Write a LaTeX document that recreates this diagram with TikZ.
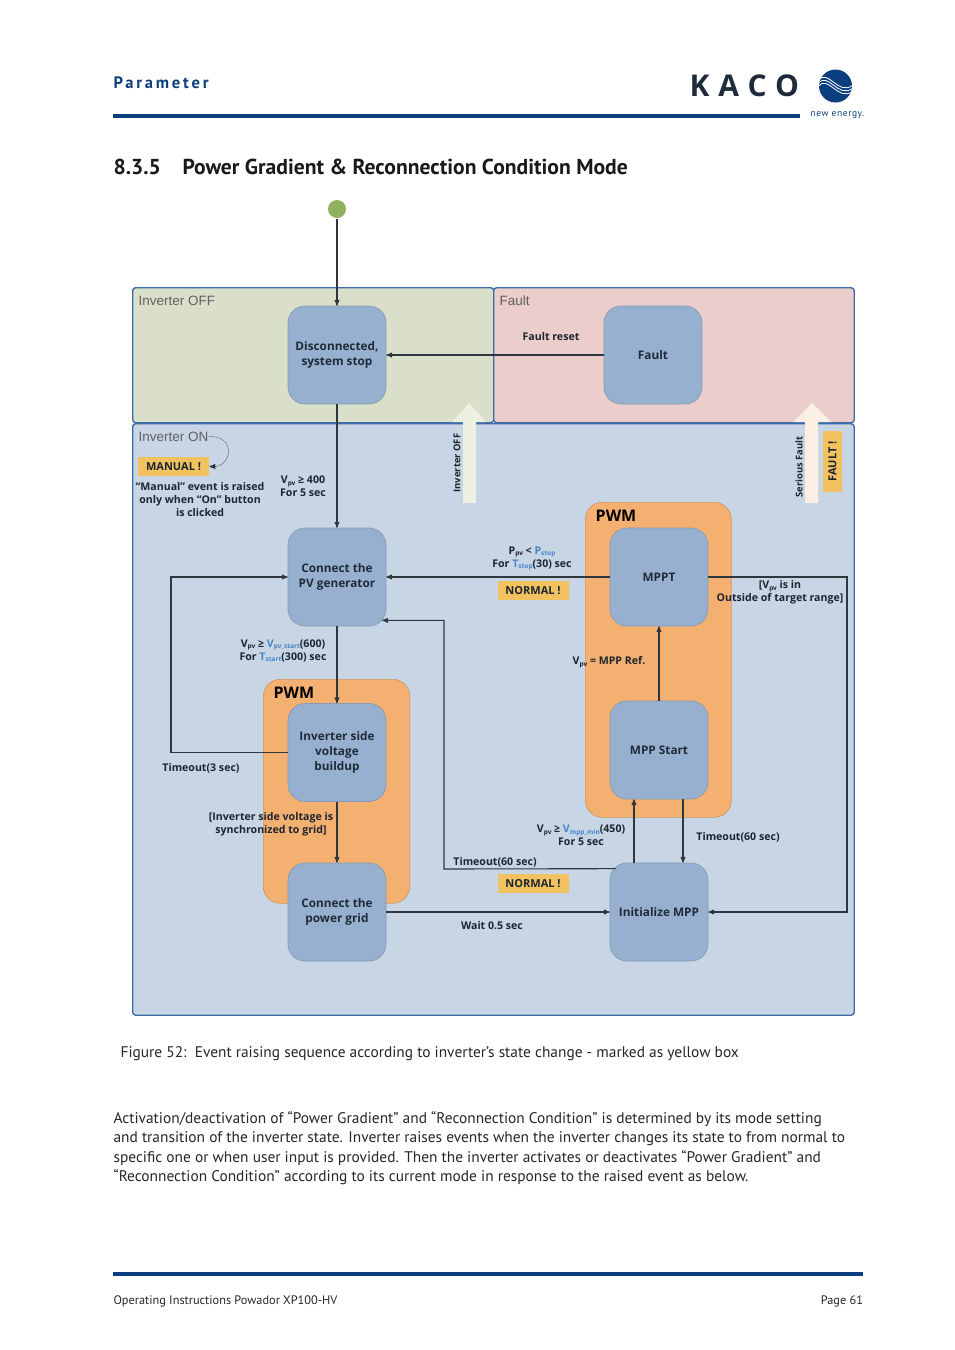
\documentclass[tikz,border=0pt]{standalone}
\usepackage{fontspec}
\setmainfont{PT Sans}
\newfontfamily\diagfont{Open Sans}
\newfontfamily\panelfont{Liberation Sans}
\usetikzlibrary{arrows,positioning,calc}
\definecolor{kblue}{HTML}{0B3D7F}
\definecolor{kdark}{HTML}{1E2B38}
\definecolor{offfill}{HTML}{DADFC9}
\definecolor{faultfill}{HTML}{EBCDCB}
\definecolor{onfill}{HTML}{C7D5E5}
\definecolor{panelline}{HTML}{3D6CA8}
\definecolor{pwmfill}{HTML}{F3B071}
\definecolor{stfill}{HTML}{98B0CF}
\definecolor{evfill}{HTML}{F2C260}
\definecolor{lblue}{HTML}{4A86C5}
\definecolor{lblack}{HTML}{1C2530}
\definecolor{startfill}{HTML}{8FB05C}
\definecolor{offup}{HTML}{EEF1E2}
\definecolor{faultup}{HTML}{FBEEE3}
\definecolor{connline}{HTML}{30363E}
\newcommand{\sbs}[1]{\raisebox{-1.6pt}{\fontsize{6.5}{6.5}\selectfont #1}}
\newcommand{\Vpv}{V\sbs{pv}}
\newcommand{\blu}[1]{\textcolor{lblue}{#1}}

\begin{document}
\begin{tikzpicture}[x=1pt, y=-1pt, ->, >=stealth', semithick, line width=1.1pt, draw=connline]
	\tikzstyle{panel}=[draw=panelline, line width=1.4pt, rounded corners=3pt, inner sep=0pt, anchor=north west]
	\tikzstyle{pwmbox}=[fill=pwmfill, draw=black!15!pwmfill, line width=.6pt, rounded corners=17pt, inner sep=0pt, anchor=north west]
	\tikzstyle{stbox}=[fill=stfill, draw=black!12!stfill, line width=.7pt, rounded corners=17pt, minimum width=98pt, minimum height=98pt, inner sep=0pt, align=center, text=kdark, font=\diagfont\bfseries\fontsize{11.8}{15}\selectfont]
	\tikzstyle{evbox}=[fill=evfill, inner sep=0pt, minimum width=71pt, minimum height=19pt, text=lblack, font=\diagfont\bfseries\fontsize{11}{13}\selectfont]
	\tikzstyle{lbl}=[inner sep=0pt, align=center, text=lblack, font=\diagfont\bfseries\fontsize{10.6}{13}\selectfont]
	\tikzstyle{sidelbl}=[inner sep=0pt, rotate=90, text=lblack, font=\diagfont\bfseries\fontsize{9.4}{12}\selectfont]
	\tikzstyle{paneltitle}=[inner sep=0pt, anchor=west, text=black!62, font=\panelfont\fontsize{13.5}{16}\selectfont]
	\tikzstyle{pwmtitle}=[inner sep=0pt, text=black, font=\diagfont\bfseries\fontsize{16}{18}\selectfont]
	\tikzstyle{pagetext}=[inner sep=0pt, anchor=west, text=black!85]
	\tikzstyle{bodytext}=[pagetext, font=\fontsize{15.4}{19}\selectfont]
	\useasboundingbox (0,0) rectangle (954,1350);

	% page head
	\node[pagetext, text=kblue, font=\bfseries\fontsize{16.5}{18}\selectfont, anchor=west] (headtitle) at (113,82.5) {\addfontfeature{LetterSpace=17}Parameter};
	\fill[kblue] (113,114) rectangle (800,118);
	\node[pagetext, text=kdark, font=\diagfont\bfseries\fontsize{30}{30}\selectfont] (kaco) at (689,86) {\addfontfeature{LetterSpace=30}KACO};
	\fill[kblue] (835.5,86) circle (16.5pt);
	\begin{scope}[white, -, line width=.8pt]
		\clip (835.5,86) circle (16.5pt);
		\foreach \dy in {-3,0,3}
			\draw (818,{84+\dy}) .. controls (828,{70+\dy}) and (838,{100+\dy}) .. (853,{88+\dy});
	\end{scope}
	\node[pagetext, text=kblue, font=\fontsize{9.5}{12}\selectfont] (newenergy) at (810,115) {\addfontfeature{LetterSpace=6}new energy.};
	\node[pagetext, font=\bfseries\fontsize{21.6}{24}\selectfont, text=black!90] (secnum) at (113,167) {8.3.5};
	\node[pagetext, font=\bfseries\fontsize{21.6}{24}\selectfont, text=black!90] (sectitle) at (182,167) {Power Gradient \& Reconnection Condition Mode};

	% panels
	\node[panel, fill=offfill, minimum width=361pt, minimum height=135pt] (offpanel) at (132,287) {};
	\node[panel, fill=faultfill, minimum width=360.5pt, minimum height=135pt] (faultpanel) at (493,287) {};
	\node[panel, fill=onfill, minimum width=721.5pt, minimum height=591.5pt] (onpanel) at (132,423) {};
	\node[pwmbox, minimum width=146.5pt, minimum height=224pt] (pwmleft) at (263,679) {};
	\node[pwmbox, minimum width=146pt, minimum height=315pt] (pwmright) at (585,502) {};
	\node[paneltitle] (offtitle) at (138,300.5) {Inverter OFF};
	\node[paneltitle] (faulttitle) at (499,300.5) {Fault};
	\node[paneltitle] (ontitle) at (138,436.5) {Inverter ON};
	\node[pwmtitle] (pwmlefttitle) at (294,692.5) {PWM};
	\node[pwmtitle] (pwmrighttitle) at (616,515.5) {PWM};

	% event arrows
	\fill[offup] (463,503) -- (463,422) -- (452,422) -- (469,403) -- (486,422) -- (476,422) -- (476,503) -- cycle;
	\fill[faultup] (805,503) -- (805,422) -- (793,422) -- (812,403) -- (831,422) -- (818,422) -- (818,503) -- cycle;

	% states
	\node[circle, fill=startfill, draw=none, minimum size=18pt, inner sep=0pt] (start) at (337,209) {};
	\node[stbox] (disc) at (337,355) {Disconnected,\\system stop};
	\node[stbox] (conn)[below of=disc, node distance=222pt] {Connect the\\PV generator};
	\node[stbox] (inv)[below of=conn, node distance=175.5pt] {Inverter side\\voltage\\buildup};
	\node[stbox] (grid)[below of=inv, node distance=159.5pt] {Connect the\\power grid};
	\node[stbox] (fault)[right of=disc, node distance=316pt] {Fault};
	\node[stbox] (mppt)[right of=conn, node distance=322pt] {MPPT};
	\node[stbox] (mppstart)[below of=mppt, node distance=173pt] {MPP Start};
	\node[stbox] (init)[right of=grid, node distance=322pt] {Initialize MPP};

	\coordinate (leftloop) at (171,577);
	\coordinate (midloop) at (444,869);
	\coordinate (rightloop) at (847,577);

	\draw (start) -- (disc);
	\draw (disc) -- (conn);
	\draw (fault) -- (disc);
	\draw (conn) -- (inv);
	\draw (inv) -- (grid);
	\draw (inv.west) -| (leftloop) -- (conn.west);
	\draw (mppt) -- (conn);
	\draw ([xshift=6pt,yshift=-6pt]init.north west) -- (midloop) |- ([xshift=-4pt,yshift=6pt]conn.south east);
	\draw (grid) -- (init);
	\draw (mppstart) -- (mppt);
	\draw ([xshift=-25pt]init.north) -- ([xshift=-25pt]mppstart.south);
	\draw ([xshift=24pt]mppstart.south) -- ([xshift=24pt]init.north);
	\draw (mppt.east) -- (rightloop) |- (init.east);

	% events
	\node[evbox] (manual) at (173.5,466.5) {MANUAL !};
	\node[evbox] (normaltop) at (533,590.5) {NORMAL !};
	\node[evbox] (normalbottom) at (533,883.5) {NORMAL !};
	\node[evbox, rotate=90, minimum width=61pt] (faultev) at (832.5,461.5) {FAULT !};
	\coordinate (manualtip) at (216,466.5);
	\draw[-, black!50, line width=.6pt] (ontitle.east) .. controls (236,436) and (232,464) .. (manualtip);
	\draw (manualtip) -- (manual.east);

	% labels
	\node[lbl] (manualnote) at (200,499.5) {“Manual” event is raised\\only when “On” button\\is clicked};
	\node[lbl] (vstart) at (303,486.5) {\Vpv{} ≥ 400\\For 5 sec};
	\node[lbl] (vpvstart) at (283,650.5) {\Vpv{} ≥ \blu{V\sbs{pv\_start}}(600)\\For \blu{T\sbs{start}}(300) sec};
	\node[lbl] (tothree) at (201,768.5) {Timeout(3 sec)};
	\node[lbl] (syncgrid) at (271,824.5) {[Inverter side voltage is\\synchronized to grid]};
	\node[lbl] (faultreset) at (551,336.5) {Fault reset};
	\node[lbl] (pstop) at (532,558.5) {P\sbs{pv} < \blu{P\sbs{stop}}\\For \blu{T\sbs{stop}}(30) sec};
	\node[lbl] (outrange) at (780,592.5) {[\Vpv{} is in\\Outside of target range]};
	\node[lbl] (mppref) at (609,662.5) {\Vpv{} = MPP Ref.};
	\node[lbl] (vmpp) at (581,835.5) {\Vpv{} ≥ \blu{V\sbs{mpp\_min}}(450)\\For 5 sec};
	\node[lbl] (tosixty) at (738,837.5) {Timeout(60 sec)};
	\node[lbl] (tosixtyb) at (495,862.5) {Timeout(60 sec)};
	\node[lbl] (waitlbl) at (492,925.5) {Wait 0.5 sec};
	\node[sidelbl] (invofflbl) at (457,463) {Inverter OFF};
	\node[sidelbl] (seriouslbl) at (799,467) {Serious Fault};

	% page text
	\node[bodytext] (caption) at (120,1054) {Figure 52:\ \ Event raising sequence according to inverter's state change - marked as yellow box};
	\node[bodytext] (bodya) at (113,1119) {Activation/deactivation of “Power Gradient” and “Reconnection Condition” is determined by its mode setting};
	\node[bodytext] (bodyb) at (113,1138.5) {and transition of the inverter state. Inverter raises events when the inverter changes its state to from normal to};
	\node[bodytext] (bodyc) at (113,1158) {specific one or when user input is provided. Then the inverter activates or deactivates “Power Gradient” and};
	\node[bodytext] (bodyd) at (113,1177) {“Reconnection Condition” according to its current mode in response to the raised event as below.};
	\fill[kblue] (113,1272) rectangle (863,1276);
	\node[pagetext, font=\fontsize{12.3}{14}\selectfont] (footl) at (113,1301) {Operating Instructions Powador XP100-HV};
	\node[pagetext, anchor=east, font=\fontsize{12.3}{14}\selectfont] (footr) at (863.5,1301) {Page 61};
\end{tikzpicture}
\end{document}
